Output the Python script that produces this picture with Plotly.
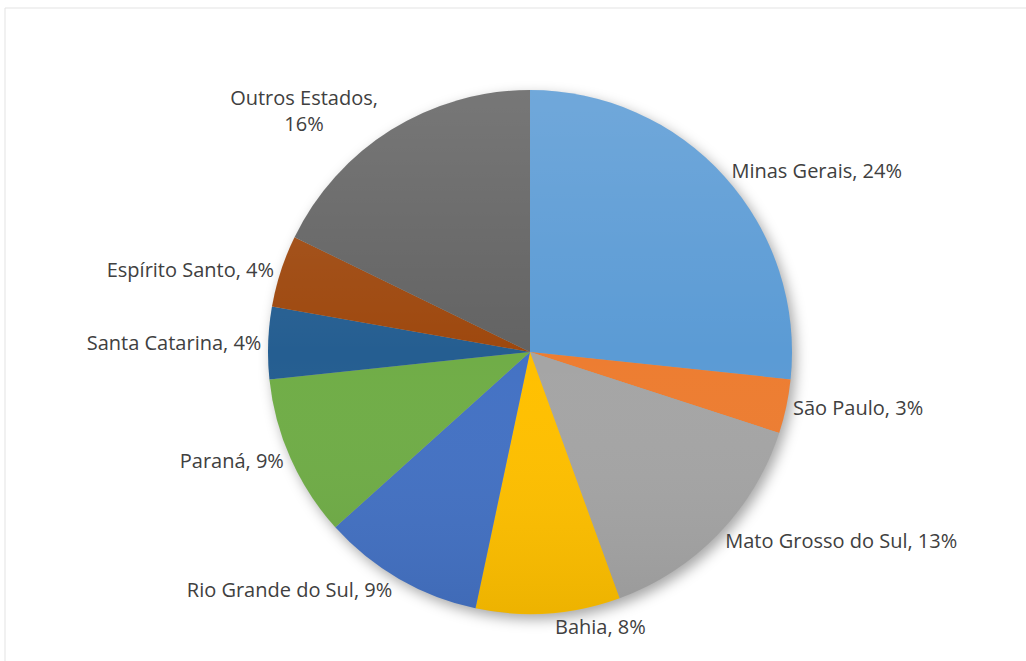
import base64
import plotly.graph_objects as go

# Participação por estado
estados = [
    "Minas Gerais",
    "São Paulo",
    "Mato Grosso do Sul",
    "Bahia",
    "Rio Grande do Sul",
    "Paraná",
    "Santa Catarina",
    "Espírito Santo",
    "Outros Estados",
]
percentuais = [24, 3, 13, 8, 9, 9, 4, 4, 16]
cores = [
    "#5B9BD5",
    "#ED7D31",
    "#A5A5A5",
    "#FFC000",
    "#4472C4",
    "#70AD47",
    "#255E91",
    "#9E480E",
    "#636363",
]

W, H = 1026, 661
cx, cy, r = 530, 352, 262  # pie centre and radius in pixels

# long label breaks onto a second line
modelos = ["%{label},<br>%{value}%" if e == "Outros Estados" else "%{label}, %{value}%" for e in estados]

fig = go.Figure(
    go.Pie(
        labels=estados,
        values=percentuais,
        sort=False,
        direction="clockwise",
        rotation=0,
        marker=dict(colors=cores, line=dict(width=0)),
        textinfo="text",
        texttemplate=modelos,
        textposition="outside",
        outsidetextfont=dict(family="Open Sans, Calibri, sans-serif", size=20, color="#404040"),
        showlegend=False,
        hoverinfo="label+value",
        domain=dict(x=[(cx - r) / W, (cx + r) / W], y=[(H - cy - r) / H, (H - cy + r) / H]),
    )
)


def svg_uri(svg):
    return "data:image/svg+xml;base64," + base64.b64encode(svg.encode()).decode()


# soft vertical shading across the disc
brilho = svg_uri(
    '<svg xmlns="http://www.w3.org/2000/svg" width="200" height="200" viewBox="0 0 200 200">'
    '<defs><linearGradient id="g" x1="0" y1="0" x2="0" y2="1">'
    '<stop offset="0" stop-color="#ffffff" stop-opacity="0.13"/>'
    '<stop offset="0.5" stop-color="#ffffff" stop-opacity="0"/>'
    '<stop offset="1" stop-color="#000000" stop-opacity="0.07"/>'
    '</linearGradient></defs>'
    '<circle cx="100" cy="100" r="100" fill="url(#g)"/></svg>'
)

# blurred drop shadow behind the disc
sombra = svg_uri(
    '<svg xmlns="http://www.w3.org/2000/svg" width="240" height="240" viewBox="0 0 240 240">'
    '<defs><filter id="b" x="-20%" y="-20%" width="140%" height="140%">'
    '<feGaussianBlur stdDeviation="2.5"/></filter></defs>'
    '<circle cx="121.5" cy="122" r="100" fill="#000000" fill-opacity="0.35" filter="url(#b)"/></svg>'
)

esc = 240 / 200
fig.update_layout(
    width=W,
    height=H,
    margin=dict(l=0, r=0, t=0, b=0),
    paper_bgcolor="white",
    plot_bgcolor="white",
    images=[
        dict(
            source=sombra,
            xref="paper",
            yref="paper",
            x=(cx - r * esc) / W,
            y=1 - (cy - r * esc) / H,
            sizex=2 * r * esc / W,
            sizey=2 * r * esc / H,
            xanchor="left",
            yanchor="top",
            sizing="stretch",
            layer="below",
        ),
        dict(
            source=brilho,
            xref="paper",
            yref="paper",
            x=(cx - r) / W,
            y=1 - (cy - r) / H,
            sizex=2 * r / W,
            sizey=2 * r / H,
            xanchor="left",
            yanchor="top",
            sizing="stretch",
            layer="above",
        ),
    ],
    shapes=[
        dict(
            type="rect",
            xref="paper",
            yref="paper",
            x0=5 / W,
            x1=1.01,
            y0=-0.01,
            y1=1 - 8 / H,
            line=dict(color="#E3E3E3", width=1),
            fillcolor="rgba(0,0,0,0)",
            layer="below",
        )
    ],
)

fig.write_html("out.html")
